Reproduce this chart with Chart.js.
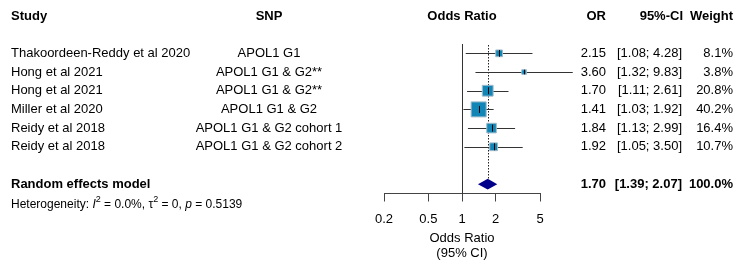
<!DOCTYPE html>
<html>
<head>
<meta charset="utf-8">
<script src="https://cdn.jsdelivr.net/npm/chart.js@4/dist/chart.umd.min.js"></script>
<style>
  body { margin: 0; background: #fff; }
  #wrap { width: 744px; height: 266px; }
</style>
</head>
<body>
<div id="wrap"><canvas id="myChart" width="744" height="266"></canvas></div>
<script>
const studies = [
  "Thakoordeen-Reddy et al 2020",
  "Hong et al 2021",
  "Hong et al 2021",
  "Miller et al 2020",
  "Reidy et al 2018",
  "Reidy et al 2018",
];
const snps = [
  "APOL1 G1",
  "APOL1 G1 & G2**",
  "APOL1 G1 & G2**",
  "APOL1 G1 & G2",
  "APOL1 G1 & G2 cohort 1",
  "APOL1 G1 & G2 cohort 2",
];
const orVals = [2.15, 3.6, 1.7, 1.41, 1.84, 1.92];
const lowerCI = [1.08, 1.32, 1.11, 1.03, 1.13, 1.05];
const upperCI = [4.28, 9.83, 2.61, 1.92, 2.99, 3.5];
const weights = [8.1, 3.8, 20.8, 40.2, 16.4, 10.7];
const pooledOR = 1.7;
const pooledLo = 1.39;
const pooledHi = 2.07;
const pooledWeight = 100.0;
const tickVals = [0.2, 0.5, 1, 2, 5];

const FONT = 'Arial, "Liberation Sans", sans-serif';
Chart.defaults.font.family = FONT;
Chart.defaults.color = "#000";

const POOLED_ROW = 7;
const boxColor = "#1185b5";
const boxBorder = "#9fbccb";

// box side grows with sqrt of weight
const boxSide = (w) => 2.37 * Math.sqrt(w);

const forestPlugin = {
  id: "forest",
  beforeDatasetsDraw(chart) {
    const { ctx, chartArea, scales } = chart;
    const x = scales.x;
    const y = scales.y;
    ctx.save();
    // line of no effect
    const x1 = Math.round(x.getPixelForValue(1)) + 0.5;
    ctx.strokeStyle = "#333";
    ctx.lineWidth = 1;
    ctx.beginPath();
    ctx.moveTo(x1, chartArea.top);
    ctx.lineTo(x1, chartArea.bottom);
    ctx.stroke();
    // pooled estimate dotted line
    const xp = Math.round(x.getPixelForValue(pooledOR)) + 0.5;
    const dTop = y.getPixelForValue(POOLED_ROW - 0.29);
    ctx.setLineDash([1.5, 1.5]);
    ctx.strokeStyle = "#222";
    ctx.beginPath();
    ctx.moveTo(xp, chartArea.top + 1);
    ctx.lineTo(xp, dTop);
    ctx.stroke();
    ctx.setLineDash([]);
    // confidence intervals
    ctx.strokeStyle = "#333";
    orVals.forEach((v, i) => {
      const py = Math.round(y.getPixelForValue(i)) + 0.5;
      ctx.beginPath();
      ctx.moveTo(x.getPixelForValue(lowerCI[i]), py);
      ctx.lineTo(x.getPixelForValue(upperCI[i]), py);
      ctx.stroke();
    });
    // pooled diamond
    ctx.fillStyle = "#00008b";
    ctx.beginPath();
    ctx.moveTo(x.getPixelForValue(pooledLo), y.getPixelForValue(POOLED_ROW));
    ctx.lineTo(x.getPixelForValue(pooledOR), y.getPixelForValue(POOLED_ROW - 0.29));
    ctx.lineTo(x.getPixelForValue(pooledHi), y.getPixelForValue(POOLED_ROW));
    ctx.lineTo(x.getPixelForValue(pooledOR), y.getPixelForValue(POOLED_ROW + 0.29));
    ctx.closePath();
    ctx.fill();
    ctx.restore();
  },
  afterDatasetsDraw(chart) {
    const { ctx, scales } = chart;
    const x = scales.x;
    const y = scales.y;
    ctx.save();
    ctx.strokeStyle = "#000";
    ctx.lineWidth = 1;
    orVals.forEach((v, i) => {
      const px = Math.round(x.getPixelForValue(v)) + 0.5;
      const py = y.getPixelForValue(i);
      const h = Math.min(boxSide(weights[i]), 7) / 2;
      ctx.beginPath();
      ctx.moveTo(px, py - h);
      ctx.lineTo(px, py + h);
      ctx.stroke();
    });
    ctx.restore();
  },
  afterDraw(chart) {
    const { ctx, scales } = chart;
    const y = scales.y;
    const reg = "13px " + FONT;
    const bold = "bold 13px " + FONT;
    ctx.save();
    ctx.fillStyle = "#000";
    ctx.textBaseline = "middle";

    const put = (txt, px, row, align, font) => {
      ctx.font = font;
      ctx.textAlign = align;
      ctx.fillText(txt, px, y.getPixelForValue(row));
    };

    // headers
    const hRow = -2;
    put("Study", 11, hRow, "left", bold);
    put("SNP", 269, hRow, "center", bold);
    put("Odds Ratio", 462, hRow, "center", bold);
    put("OR", 606, hRow, "right", bold);
    put("95%-CI", 683, hRow, "right", bold);
    put("Weight", 733, hRow, "right", bold);

    orVals.forEach((v, i) => {
      put(studies[i], 11, i, "left", reg);
      put(snps[i], 269, i, "center", reg);
      put(v.toFixed(2), 606, i, "right", reg);
      put("[" + lowerCI[i].toFixed(2) + "; " + upperCI[i].toFixed(2) + "]", 682, i, "right", reg);
      put(weights[i].toFixed(1) + "%", 733, i, "right", reg);
    });

    put("Random effects model", 11, POOLED_ROW, "left", bold);
    put(pooledOR.toFixed(2), 606, POOLED_ROW, "right", bold);
    put("[" + pooledLo.toFixed(2) + "; " + pooledHi.toFixed(2) + "]", 682, POOLED_ROW, "right", bold);
    put(pooledWeight.toFixed(1) + "%", 733, POOLED_ROW, "right", bold);

    // heterogeneity line with superscripts
    const hy = y.getPixelForValue(8.1);
    let cx = 11;
    const parts = [
      ["Heterogeneity: ", "12px", 0],
      ["I", "italic 12px", 0],
      ["2", "9px", -5],
      [" = 0.0%, ", "12px", 0],
      ["\u03c4", "12px", 0],
      ["2", "9px", -5],
      [" = 0, ", "12px", 0],
      ["p", "italic 12px", 0],
      [" = 0.5139", "12px", 0],
    ];
    ctx.textAlign = "left";
    parts.forEach(([t, f, dy]) => {
      ctx.font = f + " " + FONT;
      ctx.fillText(t, cx, hy + dy);
      cx += ctx.measureText(t).width;
    });
    ctx.restore();
  },
};

const ctx = document.getElementById("myChart");
const myChart = new Chart(ctx, {
  type: "scatter",
  data: {
    datasets: [
      {
        label: "studies",
        data: orVals.map((v, i) => ({ x: v, y: i })),
        pointStyle: "rect",
        pointRadius: weights.map((w) => boxSide(w) / Math.SQRT2),
        backgroundColor: boxColor,
        borderColor: boxBorder,
        borderWidth: 1,
        clip: false,
      },
    ],
  },
  options: {
    responsive: false,
    animation: false,
    events: [],
    layout: { padding: { left: 384, right: 204, top: 44, bottom: 0 } },
    plugins: { legend: { display: false }, tooltip: { enabled: false } },
    scales: {
      x: {
        type: "logarithmic",
        min: 0.2,
        max: 5,
        afterBuildTicks: (scale) => {
          scale.ticks = tickVals.map((v) => ({ value: v }));
        },
        afterFit: (scale) => {
          scale.height = 72.5;
        },
        ticks: {
          padding: 10,
          font: { size: 13 },
          color: "#000",
          callback: (v) => String(v),
        },
        grid: {
          drawOnChartArea: false,
          drawTicks: true,
          tickLength: 8,
          color: "#444",
        },
        border: { display: true, color: "#444" },
        title: {
          display: true,
          text: ["Odds Ratio", "(95% CI)"],
          font: { size: 13, lineHeight: 1.15 },
          padding: { top: 0, bottom: 5 },
          color: "#000",
        },
      },
      y: {
        type: "linear",
        reverse: true,
        min: -0.5,
        max: 7.5,
        display: false,
      },
    },
  },
  plugins: [forestPlugin],
});
</script>
</body>
</html>
